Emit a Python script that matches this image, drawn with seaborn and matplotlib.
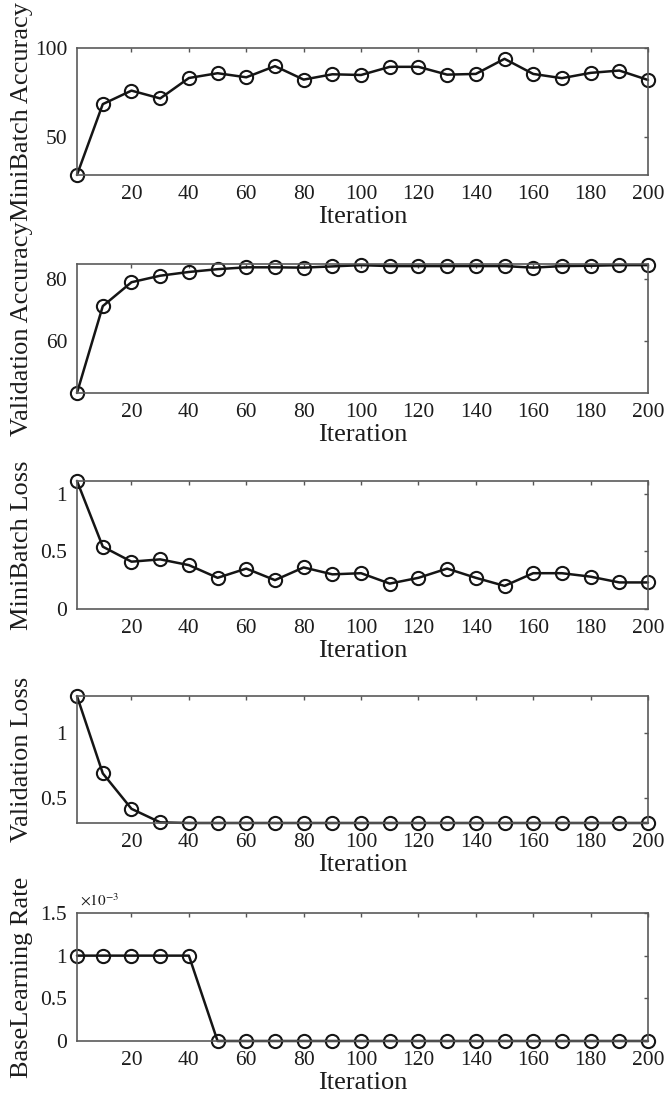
import matplotlib
matplotlib.use('Agg')
import matplotlib.pyplot as plt
from matplotlib.ticker import FuncFormatter
import seaborn as sns
import pandas as pd

# iterations at which the metrics were logged
iterations = [1, 10, 20, 30, 40, 50, 60, 70, 80, 90, 100,
              110, 120, 130, 140, 150, 160, 170, 180, 190, 200]

minibatch_acc = [28.5, 68.4, 76.0, 71.6, 83.1, 85.8, 83.5, 89.8, 82.2, 85.2, 84.8,
                 89.4, 89.4, 85.0, 85.4, 93.9, 85.4, 83.0, 86.0, 87.3, 82.0]
validation_acc = [43.3, 71.3, 79.0, 81.1, 82.3, 83.2, 83.8, 83.8, 83.7, 84.1, 84.5,
                  84.2, 84.2, 84.2, 84.2, 84.2, 83.7, 84.2, 84.3, 84.5, 84.5]
minibatch_loss = [1.11, 0.54, 0.41, 0.43, 0.38, 0.27, 0.35, 0.25, 0.36, 0.30, 0.31,
                  0.22, 0.27, 0.35, 0.27, 0.20, 0.31, 0.31, 0.28, 0.23, 0.23]
validation_loss = [1.29, 0.69, 0.415, 0.31, 0.305, 0.305, 0.305, 0.305, 0.305, 0.305, 0.305,
                   0.305, 0.305, 0.305, 0.305, 0.305, 0.305, 0.305, 0.305, 0.305, 0.305]
base_lr = [1e-3, 1e-3, 1e-3, 1e-3, 1e-3, 0, 0, 0, 0, 0, 0,
           0, 0, 0, 0, 0, 0, 0, 0, 0, 0]

ylabels = ['MiniBatch Accuracy', 'Validation Accuracy', 'MiniBatch Loss',
           'Validation Loss', 'BaseLearning Rate']
ylims = [(28.5, 100), (43.3, 84.9), (0, 1.11), (0.305, 1.29), (0, 1.5e-3)]
yticks = [[50, 100], [60, 80], [0, 0.5, 1], [0.5, 1], [0, 0.5e-3, 1e-3, 1.5e-3]]
xticks = list(range(20, 201, 20))

df = pd.DataFrame({'Iteration': iterations,
                   'MiniBatch Accuracy': minibatch_acc,
                   'Validation Accuracy': validation_acc,
                   'MiniBatch Loss': minibatch_loss,
                   'Validation Loss': validation_loss,
                   'BaseLearning Rate': base_lr})

sns.set_style('white')
plt.rcParams['font.family'] = ['Liberation Serif', 'DejaVu Serif']
plt.rcParams['mathtext.fontset'] = 'stix'
txt = '#1c1c1c'

fig = plt.figure(figsize=(6.67, 11.01), dpi=100)

# axes boxes in figure fraction (left, bottom, width, height)
boxes = [(0.1154, 0.8411, 0.8561, 0.1153),
         (0.1154, 0.6431, 0.8561, 0.1172),
         (0.1154, 0.4469, 0.8561, 0.1163),
         (0.1154, 0.2525, 0.8561, 0.1153),
         (0.1154, 0.0545, 0.8561, 0.1163)]

for i, col in enumerate(ylabels):
    ax = fig.add_axes(boxes[i])
    sns.lineplot(data=df, x='Iteration', y=col, ax=ax, color='#151515', lw=1.8,
                 marker='o', markersize=9.5, markerfacecolor='none',
                 markeredgecolor='#151515', markeredgewidth=1.5, clip_on=False)
    ax.set_xlim(1, 200)
    ax.set_ylim(*ylims[i])
    ax.set_xticks(xticks)
    ax.set_yticks(yticks[i])
    if i == 4:
        ax.yaxis.set_major_formatter(FuncFormatter(lambda v, p: '%g' % round(v * 1e3, 3)))
        ax.text(0.005, 1.03, r'$\times10^{-3}$', transform=ax.transAxes,
                fontsize=11, color=txt, ha='left', va='bottom')
    else:
        ax.yaxis.set_major_formatter(FuncFormatter(lambda v, p: '%g' % v))
    ax.tick_params(direction='in', length=3, width=1, color='#555555',
                   top=True, right=True, labelsize=15.5, labelcolor=txt, pad=7)
    for s in ax.spines.values():
        s.set_color('#5a5a5a')
        s.set_linewidth(1.2)
    ax.set_xlabel('Iteration', fontsize=19, color=txt, labelpad=2)
    ax.set_ylabel(col, fontsize=19, color=txt)
    ax.yaxis.set_label_coords(-0.077, 0.5)

plt.savefig('out.png', dpi=100)
plt.close()
